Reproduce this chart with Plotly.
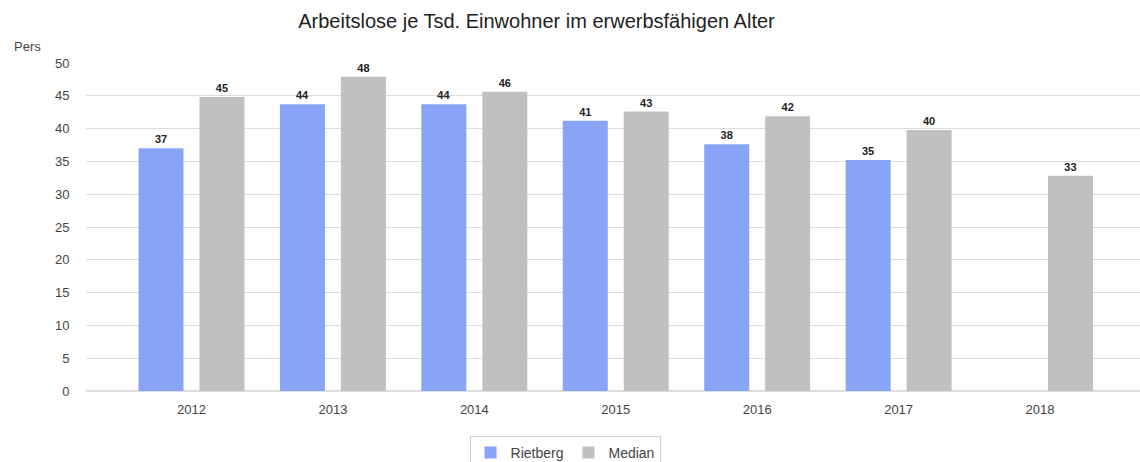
import plotly.graph_objects as go

YEARS = ["2012", "2013", "2014", "2015", "2016", "2017", "2018"]
RIETBERG = [37.0, 43.7, 43.7, 41.2, 37.6, 35.2, None]
MEDIAN = [44.8, 47.9, 45.6, 42.6, 41.9, 39.8, 32.8]

FONT = "Liberation Sans, Arial, sans-serif"


def labels(vals):
    return ["" if v is None else f"{v:.0f}" for v in vals]


fig = go.Figure()
fig.add_trace(go.Bar(
    x=YEARS, y=RIETBERG, name="Rietberg",
    marker=dict(color="#88a4f7", line=dict(width=0)),
    text=labels(RIETBERG), textposition="outside",
    textfont=dict(family=FONT, size=11, color="#222222", weight="bold"),
    cliponaxis=False,
))
fig.add_trace(go.Bar(
    x=YEARS, y=MEDIAN, name="Median",
    marker=dict(color="#c0c0c0", line=dict(width=0)),
    text=labels(MEDIAN), textposition="outside",
    textfont=dict(family=FONT, size=11, color="#222222", weight="bold"),
    cliponaxis=False,
))

fig.update_layout(
    width=1140, height=462,
    margin=dict(l=86, r=0, t=63, b=71, autoexpand=False),
    paper_bgcolor="white", plot_bgcolor="white",
    font=dict(family=FONT, size=13, color="#444444"),
    title=dict(text="Arbeitslose je Tsd. Einwohner im erwerbsfähigen Alter",
               xref="paper", x=0.4274, xanchor="center", y=0.955, yanchor="middle",
               font=dict(family=FONT, size=20, color="#222222")),
    barmode="group", bargap=0.138, bargroupgap=0.262,
    showlegend=True,
    legend=dict(orientation="h", x=0.4545, xanchor="center", y=-0.137, yanchor="top",
                bordercolor="#cccccc", borderwidth=1,
                font=dict(family=FONT, size=14, color="#444444")),
    uniformtext=dict(minsize=11, mode="show"),
)
fig.update_xaxes(range=[-0.746, 6.707], showgrid=False, showline=False,
                 ticks="outside", ticklen=6, tickcolor="white",
                 tickfont=dict(size=13, color="#444444"))
fig.update_yaxes(range=[0, 50], dtick=5, showgrid=True, gridcolor="#dddddd",
                 gridwidth=1, zeroline=True, zerolinecolor="#dddddd",
                 showline=False, ticks="outside", ticklen=13, tickcolor="white",
                 tickfont=dict(size=13, color="#444444"))
fig.add_annotation(text="Pers", xref="paper", yref="paper", x=-0.07, y=1.049,
                   xanchor="left", yanchor="middle", showarrow=False,
                   font=dict(family=FONT, size=13, color="#444444"))

fig.write_html("out.html", config={"displayModeBar": False},
               post_script="document.body.style.margin='0';")
